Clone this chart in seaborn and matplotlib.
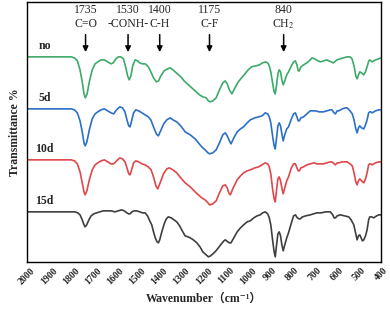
import numpy as np
import pandas as pd
import matplotlib
matplotlib.use('Agg')
import matplotlib.pyplot as plt
import seaborn as sns

wn_no = [2000, 1800, 1785, 1772, 1760, 1750, 1742, 1736, 1728, 1718,
         1705, 1692, 1680, 1665, 1650, 1635, 1620, 1610, 1598, 1587,
         1575, 1564, 1555, 1545, 1538, 1530, 1522, 1511, 1500, 1490,
         1478, 1465, 1451, 1440, 1428, 1415, 1405, 1395, 1380, 1365,
         1353, 1340, 1330, 1315, 1300, 1290, 1270, 1250, 1235, 1220,
         1205, 1190, 1180, 1172, 1160, 1145, 1130, 1115, 1104, 1095,
         1085, 1074, 1060, 1045, 1030, 1015, 1000, 985, 965, 950,
         935, 923, 912, 905, 898, 890, 883, 878, 872, 866,
         860, 854, 848, 842, 835, 826, 818, 805, 795, 787,
         780, 774, 769, 762, 750, 735, 720, 712, 700, 685,
         674, 660, 645, 636, 625, 614, 605, 599, 585, 570,
         553, 540, 531, 522, 514, 508, 502, 496, 488, 478,
         470, 463, 455, 451, 446, 440, 425, 410, 400]
t_no = [205, 205, 204, 201, 192, 180, 168, 164, 168, 180,
        192, 198, 200, 202, 202, 200, 198, 199, 203, 205,
        205, 203, 196, 186, 182, 186, 196, 202, 201, 199,
        198, 198, 195, 190, 184, 180, 181, 186, 191, 193,
        194, 192, 190, 187, 184, 181, 177, 173, 170, 167,
        165, 164, 161, 160, 161, 164, 172, 179, 181, 178,
        172, 168, 174, 180, 184, 188, 192, 195, 196, 197,
        199, 200, 199, 196, 190, 179, 170, 168, 177, 188,
        192, 190, 182, 177, 181, 187, 190, 196, 200, 201,
        197, 191, 191, 195, 197, 199, 202, 204, 203, 201,
        200, 201, 202, 201, 200, 199, 201, 202, 203, 204,
        205, 205, 203, 196, 186, 183, 187, 190, 189, 187,
        190, 195, 201, 202, 201, 200, 202, 203, 204]

wn_5d = [2000, 1800, 1785, 1772, 1760, 1750, 1742, 1737, 1729, 1718,
         1705, 1692, 1680, 1665, 1650, 1635, 1620, 1608, 1595, 1580,
         1568, 1557, 1548, 1540, 1534, 1527, 1518, 1508, 1495, 1480,
         1466, 1452, 1440, 1428, 1415, 1406, 1396, 1382, 1368, 1353,
         1340, 1323, 1305, 1285, 1262, 1240, 1225, 1210, 1195, 1182,
         1175, 1160, 1145, 1130, 1115, 1104, 1095, 1085, 1078, 1065,
         1050, 1035, 1021, 1005, 991, 970, 953, 938, 923, 912,
         905, 898, 890, 883, 878, 872, 866, 860, 854, 848,
         842, 835, 826, 818, 805, 795, 787, 780, 774, 769,
         762, 750, 735, 720, 712, 695, 680, 660, 645, 630,
         622, 612, 606, 598, 591, 575, 560, 553, 540, 530,
         522, 514, 508, 502, 496, 488, 478, 470, 463, 456,
         451, 446, 440, 425, 410, 400]
t_5d = [153, 153, 152, 149, 141, 130, 119, 116, 120, 132,
        143, 148, 150, 152, 153, 151, 149, 148, 152, 155,
        154, 150, 142, 136, 135, 141, 149, 152, 151, 149,
        147, 145, 142, 135, 128, 126, 131, 138, 142, 144,
        142, 140, 136, 130, 127, 123, 119, 115, 112, 109,
        108, 109, 112, 119, 127, 129, 126, 121, 118, 124,
        130, 133, 135, 139, 142, 144, 145, 146, 149, 148,
        145, 139, 126, 116, 113, 124, 136, 139, 136, 128,
        121, 127, 133, 135, 143, 148, 149, 145, 141, 141,
        144, 145, 148, 151, 151, 151, 150, 150, 151, 152,
        152, 149, 148, 151, 151, 153, 154, 154, 151, 148,
        142, 133, 129, 134, 136, 134, 133, 137, 142, 149,
        150, 150, 149, 151, 152, 152]

wn_10d = [2000, 1800, 1785, 1772, 1760, 1750, 1742, 1737, 1729, 1718,
          1705, 1692, 1680, 1665, 1650, 1635, 1620, 1608, 1595, 1580,
          1568, 1557, 1548, 1540, 1534, 1527, 1518, 1508, 1495, 1480,
          1466, 1452, 1439, 1428, 1417, 1409, 1398, 1383, 1368, 1357,
          1340, 1323, 1305, 1285, 1262, 1240, 1225, 1210, 1195, 1182,
          1175, 1160, 1145, 1130, 1115, 1104, 1095, 1088, 1081, 1068,
          1050, 1035, 1021, 1005, 991, 970, 953, 938, 923, 912,
          905, 898, 890, 883, 878, 872, 866, 860, 854, 848,
          842, 835, 826, 818, 805, 795, 787, 780, 774, 769,
          762, 750, 735, 720, 704, 690, 675, 660, 645, 630,
          622, 612, 606, 598, 591, 575, 560, 553, 540, 530,
          522, 514, 508, 502, 496, 488, 478, 470, 463, 456,
          451, 446, 440, 425, 410, 400]
t_10d = [102, 102, 101, 98, 90, 79, 70, 67, 71, 82,
         92, 97, 99, 101, 102, 100, 98, 98, 101, 104,
         103, 100, 94, 88, 87, 92, 99, 101, 100, 98,
         97, 95, 92, 85, 76, 73, 79, 88, 93, 94,
         92, 89, 84, 79, 75, 70, 67, 64, 62, 59,
         57, 58, 61, 69, 76, 77, 74, 69, 67, 74,
         82, 86, 89, 91, 92, 94, 95, 97, 99, 98,
         95, 88, 73, 63, 60, 72, 83, 85, 81, 74,
         68, 74, 81, 85, 94, 98, 98, 94, 91, 91,
         94, 95, 97, 98, 99, 98, 98, 98, 99, 100,
         100, 98, 97, 99, 99, 100, 100, 100, 98, 96,
         89, 80, 77, 81, 83, 81, 79, 83, 89, 97,
         98, 98, 97, 99, 100, 100]

wn_15d = [2000, 1795, 1783, 1770, 1760, 1750, 1742, 1737, 1730, 1720,
          1710, 1698, 1685, 1670, 1655, 1639, 1620, 1602, 1588, 1572,
          1560, 1548, 1540, 1534, 1526, 1515, 1504, 1490, 1478, 1466,
          1455, 1445, 1436, 1428, 1420, 1412, 1406, 1400, 1394, 1388,
          1378, 1370, 1361, 1348, 1335, 1323, 1310, 1298, 1285, 1272,
          1262, 1248, 1232, 1218, 1205, 1195, 1185, 1180, 1170, 1160,
          1150, 1142, 1125, 1110, 1104, 1092, 1085, 1078, 1065, 1050,
          1035, 1021, 1005, 991, 975, 960, 946, 935, 923, 912,
          905, 898, 890, 883, 878, 872, 866, 860, 854, 848,
          842, 835, 826, 818, 805, 795, 787, 778, 770, 765,
          755, 740, 720, 705, 690, 670, 650, 629, 618, 612,
          606, 598, 584, 565, 546, 535, 523, 515, 508, 502,
          496, 490, 484, 478, 470, 463, 456, 451, 443, 433,
          420, 410, 400]
t_15d = [50, 50, 50, 49, 47, 42, 37, 35, 37, 42,
         46, 48, 49, 50, 51, 51, 51, 50, 51, 52,
         51, 49, 48, 48, 50, 51, 51, 50, 49, 49,
         46, 41, 37, 30, 24, 20, 19, 22, 27, 32,
         39, 43, 45, 44, 42, 40, 36, 31, 26, 25,
         24, 22, 19, 15, 10, 8, 6, 5, 6, 8,
         10, 12, 17, 21, 22, 20, 19, 19, 24, 30,
         34, 37, 40, 41, 44, 46, 47, 49, 50, 48,
         44, 37, 22, 10, 5, 17, 28, 30, 26, 17,
         11, 17, 24, 29, 39, 46, 47, 44, 43, 43,
         45, 46, 47, 48, 49, 49, 50, 50, 47, 44,
         44, 46, 47, 46, 45, 42, 37, 29, 22, 26,
         27, 24, 21, 22, 26, 32, 42, 45, 45, 44,
         46, 47, 47]

labels = ['no', '5d', '10d', '15d']
colors = ['#3daa6a', '#2c6fc7', '#e0474a', '#3f3f3f']

bands = ['1735', '1530', '1400', '1175', '840']
band_names = ['C=O', '-CONH-', 'C-H', 'C-F', 'CH$_2$']
band_pos = [1735, 1543, 1400, 1175, 840]

rows = []
for lab, wn, t in zip(labels, [wn_no, wn_5d, wn_10d, wn_15d], [t_no, t_5d, t_10d, t_15d]):
    for a, b in zip(wn, t):
        rows.append({'sample': lab, 'wavenumber': a, 'transmittance': b})
df = pd.DataFrame(rows)

sns.set_style('white')
plt.rcParams['font.family'] = ['Liberation Serif', 'DejaVu Serif']
plt.rcParams['mathtext.fontset'] = 'stix'

fig = plt.figure(figsize=(3.9, 3.11), dpi=100)
ax = fig.add_axes([0.069, 0.158, 0.908, 0.836])

for lab, col in zip(labels, colors):
    sns.lineplot(data=df[df['sample'] == lab], x='wavenumber', y='transmittance',
                 color=col, lw=1.2, estimator=None, ax=ax)

ax.set_xlim(2000, 400)
ax.set_ylim(0, 260)
ax.set_xticks(np.arange(2000, 399, -100))
ax.set_xticklabels([str(v) for v in range(2000, 399, -100)], rotation=45,
                   fontsize=7, fontweight='bold', ha='center', va='top')
ax.tick_params(axis='x', length=0, pad=3)
ax.set_yticks([])
for s in ax.spines.values():
    s.set_color('black')
    s.set_linewidth(1.0)

ax.set_xlabel('Wavenumber（cm⁻¹）', fontsize=8.5, fontweight='bold', labelpad=5,
              family=['Liberation Serif', 'DejaVu Serif', 'Noto Sans CJK SC'])
ax.set_ylabel('Transmittance %', fontsize=8.5, fontweight='bold', labelpad=4)

# sample names above each trace
for lab, t in zip(labels, [t_no, t_5d, t_10d, t_15d]):
    ax.text(1920, t[0] + 5, lab, fontsize=8.5, fontweight='bold', ha='center', va='bottom')

# band assignments with arrows
for num, name, x in zip(bands, band_names, band_pos):
    ax.annotate('', xy=(x, 207), xytext=(x, 230),
                arrowprops=dict(arrowstyle='-|>', color='black', lw=1.1, mutation_scale=8))
    ax.text(x, 252, num, fontsize=8.5, ha='center', va='center')
    ax.text(x, 238, name, fontsize=8.5, ha='center', va='center')

fig.savefig('out.png', dpi=100)
